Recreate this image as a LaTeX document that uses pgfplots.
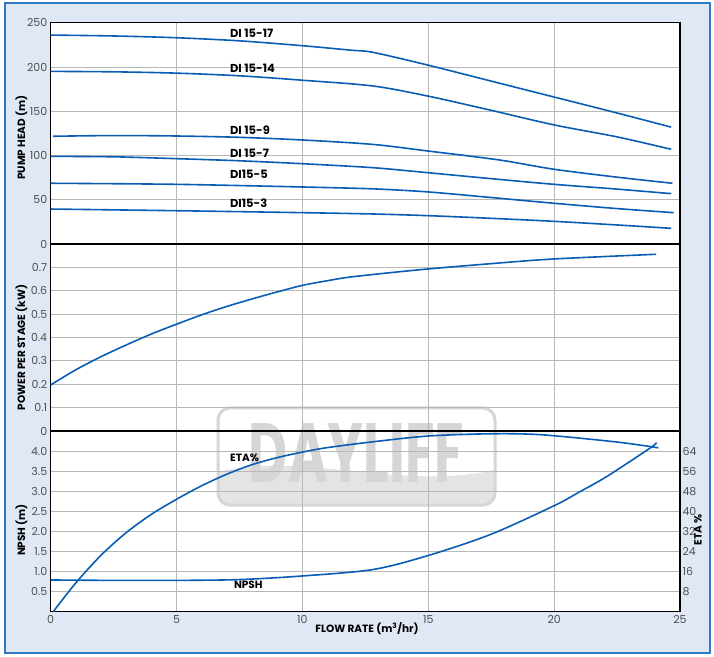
\documentclass[border=0pt]{standalone}
\usepackage{pgfplots}
\pgfplotsset{compat=1.18}
\usepackage{fontspec}
\setmainfont{Poppins}
\definecolor{bgblue}{HTML}{DFE8F4}
\definecolor{brd}{HTML}{2C7AC6}
\definecolor{curve}{HTML}{0A5DB5}
\definecolor{gridc}{HTML}{B8B8B8}
\definecolor{tickc}{HTML}{505050}
\definecolor{wm}{HTML}{D6D6D6}
\definecolor{wm2}{HTML}{E4E4E4}
\tikzset{lab/.style={font=\fontsize{10.5}{10.5}\selectfont\bfseries, text=black},
         dil/.style={font=\fontsize{11.5}{11.5}\selectfont\bfseries, text=black, anchor=west, inner sep=0pt},
         cv/.style={curve, line width=1.6pt, smooth, tension=0.5, mark=none}}
\pgfplotsset{
  panel/.style={
    anchor=south west, scale only axis, width=629.3pt,
    xmin=0, xmax=25, xtick={0,5,...,25},
    grid=major, major grid style={gridc, line width=0.8pt},
    axis line style={black, line width=1.4pt},
    tick style={draw=none},
    ticklabel style={font=\fontsize{11}{11}\selectfont, text=tickc},
    /pgf/number format/assume math mode=true,
  },
}
\begin{document}
\begin{tikzpicture}[x=1pt,y=1pt]
\useasboundingbox (0,0) rectangle (714,656);
\fill[white] (0,0) rectangle (714,656);
\draw[brd, fill=bgblue, line width=1.5pt] (5,3) rectangle (710,653);
\fill[white] (50.7,44.3) rectangle (680,633.3);
% watermark
\begin{scope}
\clip[rounded corners=12pt] (218,151) rectangle (495,248);
\fill[wm2] (218,184) .. controls (300,205) and (400,165) .. (495,186) -- (495,151) -- (218,151) -- cycle;
\end{scope}
\draw[wm, line width=3pt, rounded corners=12pt] (218,151) rectangle (495,248);
\node[text=wm, font=\fontsize{84}{84}\selectfont\bfseries, xscale=0.64, inner sep=0pt] at (356.5,203) {DAYLIFF};

% ---------- top panel: pump head ----------
\begin{axis}[panel, at={(50.7pt,412pt)}, height=221.3pt,
  ymin=0, ymax=250, ytick={0,50,...,250}, xticklabels={}]
\addplot[cv] coordinates {(0,236) (2.5,235) (5,233) (7.5,229.5) (10,224) (11.9,219) (12.8,216.5) (15,202) (17.5,184) (20,166) (22.5,148) (24.65,132)};
\addplot[cv] coordinates {(0,195) (2.5,194.5) (5,193) (7.5,190) (10,185) (12.8,178.5) (15,167) (17.5,151) (20,134.5) (22.5,121) (24.65,107)};
\addplot[cv] coordinates {(0.1,121.7) (2.5,122.5) (5,122) (7.5,120.5) (10,117.5) (12.8,112.5) (15,105) (17.8,95) (20,84.4) (22.5,75.5) (24.7,68.6)};
\addplot[cv] coordinates {(0,99) (2.5,98.5) (5,96.4) (7.5,94) (10,90.7) (12.8,86.2) (15,80.5) (17.5,73.8) (20,67.4) (22.5,62) (24.65,56.9)};
\addplot[cv] coordinates {(0,68.6) (5,67.4) (10,64.4) (12.8,62.3) (15,58.8) (17.5,52.5) (20,46) (22.5,40) (24.75,35.4)};
\addplot[cv] coordinates {(0,39.5) (5,37.6) (10,35.4) (12.8,33.9) (15,32) (17.5,29) (20,25.6) (22.5,21.5) (24.65,17.7)};
\node[dil] at (axis cs:7.12,238.4) {DI 15-17};
\node[dil] at (axis cs:7.12,199) {DI 15-14};
\node[dil] at (axis cs:7.12,128.8) {DI 15-9};
\node[dil] at (axis cs:7.12,102.8) {DI 15-7};
\node[dil] at (axis cs:7.12,79) {DI15-5};
\node[dil] at (axis cs:7.12,45.8) {DI15-3};
\end{axis}

% ---------- middle panel: power per stage ----------
\begin{axis}[panel, at={(50.7pt,225pt)}, height=187pt,
  ymin=0, ymax=0.8, ytick={0,0.1,...,0.7},
  yticklabels={0,0.1,0.2,0.3,0.4,0.5,0.6,0.7}, xticklabels={}]
\addplot[cv] coordinates {(0,0.197) (1,0.262) (2,0.318) (3,0.368) (4,0.415) (5,0.457) (6,0.497) (7,0.533) (8,0.565) (9,0.595) (10,0.623) (11,0.643) (12,0.66) (14.67,0.69) (17.5,0.716) (20,0.736) (24.05,0.756)};
\end{axis}

% ---------- bottom panel: NPSH ----------
\begin{axis}[panel, at={(50.7pt,44.3pt)}, height=180.7pt,
  ymin=0, ymax=4.5, ytick={0.5,1,...,4},
  yticklabels={0.5,1.0,1.5,2.0,2.5,3.0,3.5,4.0}]
\addplot[cv] coordinates {(0,0.79) (2.5,0.78) (5,0.78) (7.5,0.8) (10,0.89) (12.8,1.05) (15,1.4) (17.5,1.93) (20,2.64) (21,2.98) (22.1,3.37) (23.8,4.07) (24.07,4.21)};
\node[lab, inner sep=0pt] at (axis cs:7.7,3.84) {ETA\%};
\node[lab, inner sep=0pt] at (axis cs:7.85,0.67) {NPSH};
\end{axis}
\begin{axis}[panel, at={(50.7pt,44.3pt)}, height=180.7pt,
  ymin=0, ymax=72, ytick={8,16,...,64}, grid=none,
  axis y line*=right, axis x line=none,
  yticklabel style={xshift=-1pt}]
\addplot[cv] coordinates {(0.1,0) (1,11.5) (2,22.5) (3,31.5) (4,38.8) (5,44.8) (6,50.2) (7,54.8) (8,58.6) (9,61.4) (10,63.6) (11,65.4) (12.8,67.7) (15,70) (17.5,70.9) (19.5,70.5) (22.5,67.6) (24.14,65.3)};
\end{axis}

% axis labels
\node[lab, rotate=90] at (21.5,518.3) {PUMP HEAD (m)};
\node[lab, rotate=90] at (21.5,308.5) {POWER PER STAGE (kW)};
\node[lab, rotate=90] at (21.5,126) {NPSH (m)};
\node[lab, rotate=90] at (698,126) {ETA \%};
\node[lab] at (367,27) {FLOW RATE (m\textsuperscript{3}/hr)};
\end{tikzpicture}
\end{document}
